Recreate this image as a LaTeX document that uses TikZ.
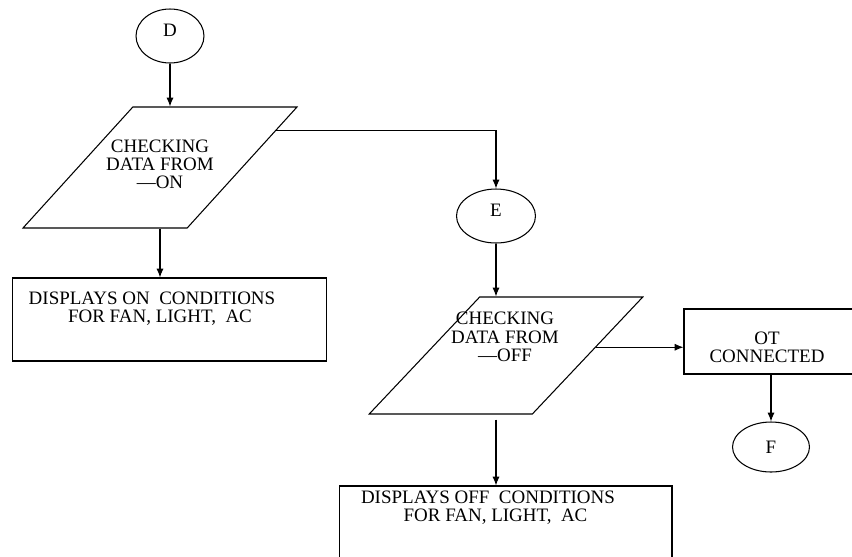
\documentclass[tikz,border=0pt]{standalone}
\usepackage{fontspec}
\setmainfont{Liberation Serif}
\usetikzlibrary{shapes.geometric,arrows.meta,calc}
\begin{document}
\begin{tikzpicture}[x=.02cm,y=-.02cm,line width=.6pt,font=\fontsize{10.8}{10.4}\selectfont,
 conn/.style={ellipse,draw,inner sep=0pt},
 io/.style={trapezium,draw,trapezium stretches=true,inner sep=2pt,align=center,minimum width=5.48cm},
 box/.style={rectangle,draw,inner sep=0pt},
 txt/.style={align=center,inner sep=0pt},
 arr/.style={-{Latex[length=5pt,width=4pt]}}]
\useasboundingbox (0,0) rectangle (852,556);
\clip (0,0) rectangle (852,556);
\path (170,36) node[conn,minimum width=1.36cm,minimum height=1.08cm] (D) {\raisebox{.24cm}{D}}
 (160,167.5) node[io,minimum height=2.42cm,trapezium left angle=60.7,trapezium right angle=119.3] (chk1) {\strut}
 (160,164.5) node[txt] (chk1t) {CHECKING\\DATA FROM\\—ON}
 (496,216) node[conn,minimum width=1.58cm,minimum height=1.08cm] (E) {\raisebox{.24cm}{E}}
 (506,355.5) node[io,minimum height=2.34cm,trapezium left angle=59.8,trapezium right angle=120.2] (chk2) {\strut}
 (505,337) node[txt] (chk2t) {CHECKING\\DATA FROM\\—OFF}
 (169.5,319.5) node[box,minimum width=6.3cm,minimum height=1.66cm] (disp1) {}
 (152,309) node[txt] (disp1t) {DISPLAYS ON\ \ CONDITIONS\\\hspace*{.32cm}FOR FAN, LIGHT,\ \ AC}
 (771,341.5) node[box,minimum width=3.48cm,minimum height=1.3cm] (ot) {}
 (767,347.5) node[txt] (ott) {OT\\CONNECTED}
 (771,447) node[conn,minimum width=1.54cm,minimum height=1cm] (F) {F}
 (505.5,543) node[box,minimum width=6.66cm,minimum height=2.28cm] (disp2) {}
 (488,508) node[txt] (disp2t) {DISPLAYS OFF\ \ CONDITIONS\\\hspace*{.3cm}FOR FAN, LIGHT,\ \ AC};
\coordinate (o1) at ($(chk1.top right corner)!.2!(chk1.bottom right corner)$);
\coordinate (o2) at ($(chk2.top right corner)!.43!(chk2.bottom right corner)$);
\draw[arr] (D.south) -- (D.south |- chk1.north);
\draw[arr] (chk1.south) -- (chk1.south |- disp1.north);
\draw[arr] (o1) -| (E.north);
\draw[arr] (E.south) -- (E.south |- chk2.north);
\draw[arr,shorten <=.1cm] (E.south |- chk2.south) -- (E.south |- disp2.north);
\draw[arr] (o2) -- (o2 -| ot.west);
\draw[arr] (F.north |- ot.south) -- (F.north);
\end{tikzpicture}
\end{document}
